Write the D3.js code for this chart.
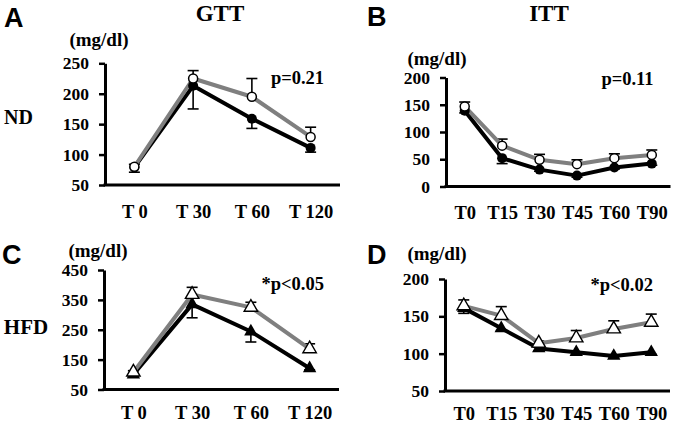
<!DOCTYPE html>
<html>
<head>
<meta charset="utf-8">
<script src="https://cdn.jsdelivr.net/npm/d3@7/dist/d3.min.js"></script>
<style>
  html, body { margin: 0; padding: 0; background: #fff; }
  svg { display: block; }
  .serif { font-family: "Liberation Serif", "Times New Roman", serif; font-weight: bold; }
  .sans { font-family: "Liberation Sans", Arial, sans-serif; font-weight: bold; }
</style>
</head>
<body>
<svg id="chart" width="674" height="427"></svg>
<script>
// ---- Data ----
const gttCats = ["T 0", "T 30", "T 60", "T 120"];
const ittCats = ["T0", "T15", "T30", "T45", "T60", "T90"];

const ticksA = [50, 100, 150, 200, 250];
const ticksB = [0, 50, 100, 150, 200];
const ticksC = [50, 150, 250, 350, 450];
const ticksD = [50, 100, 150, 200];

// Panel A: ND GTT
const aGray = [80, 225, 195, 129];
const aGrayErr = [4, 13, 30, 16];
const aBlack = [79, 213, 159, 111];
const aBlackErr = [8, 38, 16, 7];

// Panel B: ND ITT
const bGray = [147, 75, 49, 41, 52, 58];
const bGrayErr = [8, 12, 10, 8, 8, 9];
const bBlack = [139, 52, 31, 20, 35, 42];
const bBlackErr = [4, 10, 3, 3, 3, 3];

// Panel C: HFD GTT
const cGray = [108, 368, 325, 186];
const cGrayErr = [5, 24, 17, 17];
const cBlack = [100, 335, 244, 121];
const cBlackErr = [3, 45, 35, 5];

// Panel D: HFD ITT
const dGray = [164, 151, 114, 121, 133, 142];
const dGrayErr = [8, 12, 3, 10, 11, 11];
const dBlack = [161, 134, 107, 102, 97, 102];
const dBlackErr = [7, 3, 3, 3, 3, 3];

const svg = d3.select("#chart");
svg.append("rect").attr("width", 674).attr("height", 427).attr("fill", "#fff");

const GRAY = "#7f7f7f";

function panel(opt) {
  const g = svg.append("g");
  const x = d3.scalePoint().domain(opt.cats).range(opt.xr).padding(0.5);
  const y = d3.scaleLinear().domain([opt.ticks[0], opt.ticks[opt.ticks.length - 1]]).range(opt.yr);

  // y axis
  const ya = g.append("g").attr("transform", `translate(${opt.xr[0]},0)`)
    .call(d3.axisLeft(y).tickValues(opt.ticks).tickSize(6).tickSizeOuter(0).tickPadding(10));
  ya.select(".domain").attr("stroke", "#000").attr("stroke-width", 3);
  ya.selectAll(".tick line").attr("stroke", "#000").attr("stroke-width", 2.5);
  ya.selectAll(".tick text").attr("class", "serif").attr("font-size", 17.5).attr("fill", "#000");

  // x axis
  const xa = g.append("g").attr("transform", `translate(0,${opt.yr[0]})`)
    .call(d3.axisBottom(x).tickSize(0).tickSizeOuter(0).tickPadding(opt.xpad));
  xa.select(".domain").attr("stroke", "#000").attr("stroke-width", 3)
    .attr("d", `M${opt.xr[0] - 1.5},0H${opt.xr[1]}`);
  xa.selectAll(".tick text").attr("class", "serif").attr("font-size", 18.5).attr("fill", "#000");

  const cats = opt.cats;
  // error bars
  function errBars(vals, errs, dir) {
    const eg = g.append("g").attr("stroke", "#000").attr("stroke-width", 1.6);
    cats.forEach((c, i) => {
      const cx = x(c), y0 = y(vals[i]), y1 = y(vals[i] + dir * errs[i]);
      eg.append("line").attr("x1", cx).attr("x2", cx).attr("y1", y0).attr("y2", y1);
      eg.append("line").attr("x1", cx - 5.5).attr("x2", cx + 5.5).attr("y1", y1).attr("y2", y1);
    });
  }
  errBars(opt.black, opt.blackErr, -1);
  errBars(opt.gray, opt.grayErr, 1);

  const line = d3.line().x((d, i) => x(cats[i])).y(d => y(d));
  g.append("path").datum(opt.black).attr("d", line).attr("fill", "none")
    .attr("stroke", "#000").attr("stroke-width", 4).attr("stroke-linejoin", "round");
  g.append("path").datum(opt.gray).attr("d", line).attr("fill", "none")
    .attr("stroke", GRAY).attr("stroke-width", 4).attr("stroke-linejoin", "round");

  if (opt.shape === "circle") {
    g.selectAll(".bm").data(opt.black).enter().append("circle")
      .attr("cx", (d, i) => x(cats[i])).attr("cy", d => y(d)).attr("r", 5).attr("fill", "#000");
    g.selectAll(".gm").data(opt.gray).enter().append("circle")
      .attr("cx", (d, i) => x(cats[i])).attr("cy", d => y(d)).attr("r", 4.5)
      .attr("fill", "#fff").attr("stroke", "#000").attr("stroke-width", 1.5);
  } else {
    const tri = d3.symbol().type(d3.symbolTriangle).size(78);
    g.selectAll(".bm").data(opt.black).enter().append("path")
      .attr("d", tri).attr("transform", (d, i) => `translate(${x(cats[i])},${y(d)})`).attr("fill", "#000");
    g.selectAll(".gm").data(opt.gray).enter().append("path")
      .attr("d", tri).attr("transform", (d, i) => `translate(${x(cats[i])},${y(d)})`)
      .attr("fill", "#fff").attr("stroke", "#000").attr("stroke-width", 1.4);
  }

  g.append("text").attr("class", "serif").attr("font-size", 18.5).attr("text-anchor", "middle")
    .attr("x", opt.pPos[0]).attr("y", opt.pPos[1]).text(opt.pText);
  g.append("text").attr("class", "serif").attr("font-size", 19).attr("text-anchor", "middle")
    .attr("x", opt.unitPos[0]).attr("y", opt.unitPos[1]).text("(mg/dl)");
  g.append("text").attr("class", "sans").attr("font-size", 27)
    .attr("x", opt.letterPos[0]).attr("y", opt.letterPos[1]).text(opt.letter);
}

panel({ cats: gttCats, ticks: ticksA, xr: [105, 340], yr: [185, 63.3], xpad: 19.5,
  gray: aGray, grayErr: aGrayErr, black: aBlack, blackErr: aBlackErr, shape: "circle",
  pText: "p=0.21", pPos: [297.5, 84], unitPos: [99, 46], letter: "A", letterPos: [4, 26.5] });
panel({ cats: ittCats, ticks: ticksB, xr: [446, 670.5], yr: [186.5, 77.5], xpad: 19,
  gray: bGray, grayErr: bGrayErr, black: bBlack, blackErr: bBlackErr, shape: "circle",
  pText: "p=0.11", pPos: [627.5, 85], unitPos: [437, 65], letter: "B", letterPos: [367, 25.5] });
panel({ cats: gttCats, ticks: ticksC, xr: [104, 339], yr: [389.5, 270], xpad: 16,
  gray: cGray, grayErr: cGrayErr, black: cBlack, blackErr: cBlackErr, shape: "triangle",
  pText: "*p<0.05", pPos: [292.7, 290], unitPos: [98, 256.5], letter: "C", letterPos: [2, 263.5] });
panel({ cats: ittCats, ticks: ticksD, xr: [445, 670], yr: [391, 279], xpad: 15.5,
  gray: dGray, grayErr: dGrayErr, black: dBlack, blackErr: dBlackErr, shape: "triangle",
  pText: "*p<0.02", pPos: [621.7, 291], unitPos: [437, 260], letter: "D", letterPos: [367, 263.5] });

// Titles and row labels
svg.append("text").attr("class", "serif").attr("font-size", 23).attr("text-anchor", "middle")
  .attr("x", 220).attr("y", 20.5).text("GTT");
svg.append("text").attr("class", "serif").attr("font-size", 23).attr("text-anchor", "middle")
  .attr("x", 549).attr("y", 20.5).text("ITT");
svg.append("text").attr("class", "serif").attr("font-size", 20).attr("text-anchor", "middle")
  .attr("x", 18.5).attr("y", 123.5).text("ND");
svg.append("text").attr("class", "serif").attr("font-size", 21).attr("text-anchor", "middle")
  .attr("x", 26).attr("y", 333.5).text("HFD");
</script>
</body>
</html>
